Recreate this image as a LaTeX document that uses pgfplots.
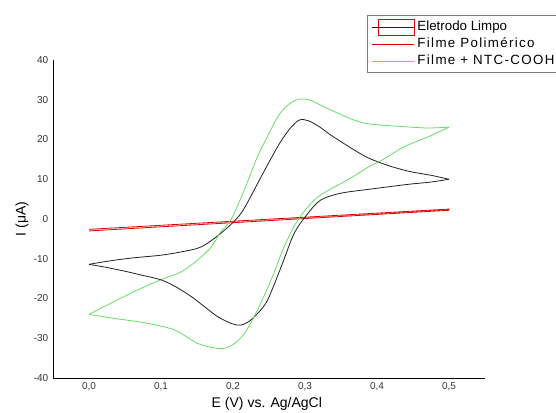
\documentclass[border=0pt]{standalone}
\usepackage{fontspec}
\setmainfont{Liberation Sans}
\newfontfamily\widefont[LetterSpace=10]{Liberation Sans}
\usepackage{pgfplots}
\pgfplotsset{compat=1.18}

\definecolor{cvgreen}{HTML}{66DD66}
\definecolor{cvred}{HTML}{DD0000}
\definecolor{cvblack}{HTML}{222222}

\begin{document}
\begin{tikzpicture}
\begin{axis}[
    at={(0,0)}, anchor=south west,
    scale only axis,
    width=324pt, height=238.5pt,
    xmin=-0.05, xmax=0.55,
    ymin=-40, ymax=40,
    axis x line*=bottom,
    axis y line*=left,
    axis line style={-, black, line width=0.6pt},
    major tick length=0pt,
    xtick={0,0.1,0.2,0.3,0.4,0.5},
    ytick={-40,-30,-20,-10,0,10,20,30,40},
    xticklabel style={font=\fontsize{7.5}{9}\selectfont, text=black!80,
        /pgf/number format/.cd, use comma, fixed, fixed zerofill, precision=1},
    yticklabel style={font=\fontsize{7.5}{9}\selectfont, text=black!80},
    /pgf/number format/assume math mode=true,
    scaled x ticks=false,
    xlabel={E (V) vs. Ag/AgCl},
    ylabel={I (μA)},
    xlabel style={font=\fontsize{10.5}{12}\selectfont, at={(axis description cs:0.495,-0.082)}, anchor=center},
    ylabel style={font=\fontsize{10.5}{12}\selectfont, at={(axis description cs:-0.072,0.5)}, anchor=center},
    legend cell align=left,
    legend style={at={(axis description cs:0.727,1.14)}, anchor=north west,
        draw=gray, font=\fontsize{10}{11}\selectfont, row sep=0pt},
]
% Eletrodo Limpo (black), forward sweep
\addplot[cvblack, line width=0.6pt, smooth,
    legend image code/.code={%
      \path (0pt,0pt) -- (32pt,0pt);
      \draw[cvred, line width=0.6pt, overlay] (5pt,-6pt) rectangle (32pt,6pt);
      \draw[cvblack, line width=0.6pt] (5pt,0pt) -- (32pt,0pt);}]
coordinates {
(0,-11.4) (0.03,-10.5) (0.06,-9.8) (0.1,-9.1) (0.13,-8.2) (0.156,-7) (0.183,-3.6)
(0.211,1.4) (0.239,10.6) (0.262,18.2) (0.278,22.5) (0.292,24.9) (0.305,24.7)
(0.32,23.2) (0.336,21.1) (0.368,17.4) (0.39,15.2) (0.42,13.2) (0.447,11.9)
(0.475,11) (0.5,10)
};
\addlegendentry{Eletrodo Limpo}
% Filme Polimerico (red)
\addplot[cvred, line width=0.6pt,
    legend image code/.code={\path (0pt,0pt) -- (32pt,0pt);
      \draw[cvred, line width=0.6pt] (5pt,0pt) -- (32pt,0pt);}]
coordinates {
(0,-2.6) (0.5,2.5) (0.5,2.2) (0,-3.0)
};
\addlegendentry{\widefont Filme Polimérico}
% Filme + NTC-COOH (green), forward sweep
\addplot[cvgreen, line width=0.6pt, smooth,
    legend image code/.code={\path (0pt,0pt) -- (32pt,0pt);
      \draw[cvgreen, line width=0.6pt] (5pt,0pt) -- (32pt,0pt);}]
coordinates {
(0,-24) (0.03,-21.2) (0.058,-18.7) (0.08,-16.8) (0.105,-14.9) (0.128,-13.3)
(0.151,-10.3) (0.17,-7) (0.183,-3.2) (0.197,-0.25) (0.215,7) (0.234,15.7)
(0.25,21.5) (0.262,25.7) (0.275,28.5) (0.29,30.1) (0.305,30) (0.32,28.8)
(0.336,27.4) (0.368,24.9) (0.39,23.9) (0.44,23.2) (0.47,22.9) (0.5,23.1)
};
\addlegendentry{\widefont Filme + NTC-COOH}
% reverse sweeps
\addplot[cvblack, line width=0.6pt, smooth, forget plot] coordinates {
(0.5,10) (0.475,9.3) (0.447,8.8) (0.42,8.2) (0.39,7.5) (0.35,6.5) (0.322,4.8)
(0.304,1.4) (0.285,-3.6) (0.267,-12) (0.248,-20.4) (0.235,-23.6) (0.222,-25.8)
(0.21,-26.7) (0.198,-26.3) (0.179,-24.6) (0.16,-22) (0.142,-19.5) (0.12,-17)
(0.1,-15.3) (0.075,-14.2) (0.054,-13.3) (0.025,-12.2) (0,-11.4)
};
\addplot[cvgreen, line width=0.6pt, smooth, forget plot] coordinates {
(0.5,23.1) (0.47,20.6) (0.438,18.2) (0.405,14.6) (0.39,13.3) (0.359,9.8)
(0.335,7.5) (0.313,4.8) (0.29,-0.25) (0.271,-7) (0.253,-15.3) (0.234,-22.9)
(0.216,-28.8) (0.2,-31.6) (0.186,-32.6) (0.17,-32.3) (0.151,-31.3)
(0.128,-28.8) (0.114,-27.6) (0.081,-26.2) (0.035,-25) (0,-24)
};
\end{axis}
\pgfresetboundingbox
\useasboundingbox (-39.75pt,-25.5pt) rectangle (377.25pt,283.5pt);
\end{tikzpicture}
\end{document}
